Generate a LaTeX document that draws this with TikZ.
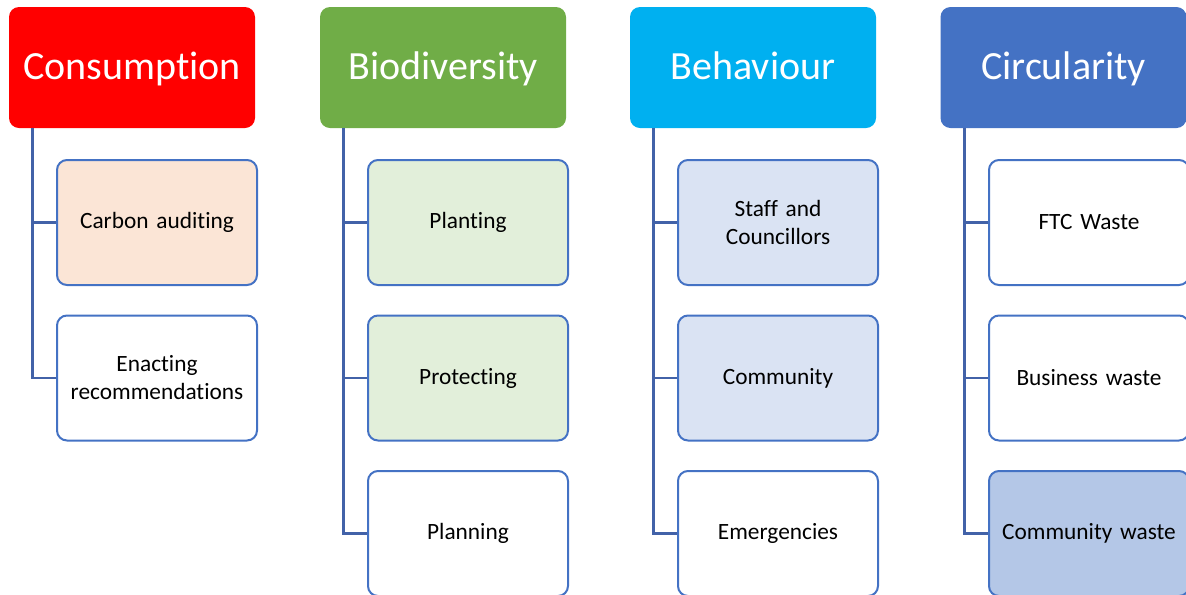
\documentclass[tikz,border=0pt]{standalone}
\usepackage{fontspec}
\setmainfont{Carlito}[Ligatures=NoCommon]
\definecolor{consred}{HTML}{FF0000}
\definecolor{biogreen}{HTML}{70AD47}
\definecolor{behblue}{HTML}{00B0F0}
\definecolor{circblue}{HTML}{4472C4}
\definecolor{linkblue}{HTML}{4262A8}
\definecolor{peach}{HTML}{FBE5D6}
\definecolor{lightgreen}{HTML}{E2EFDA}
\definecolor{lightblue}{HTML}{DAE3F3}
\definecolor{midblue}{HTML}{B4C7E7}

\begin{document}
\begin{tikzpicture}[x=0.75pt,y=-0.75pt,
  head/.style={rounded corners=7.5pt,fill=#1,text=white,minimum width=184.5pt,minimum height=90.75pt,
    text height=21pt,text depth=3pt,font=\fontsize{30}{36}\selectfont},
  item/.style={draw=circblue,line width=1.5pt,rounded corners=7.5pt,fill=#1,minimum width=150pt,minimum height=93.75pt,text width=140pt,align=center,font=\fontsize{17.5}{21}\selectfont},
  item/.default=white,
  link/.style={draw=linkblue,line width=1.9pt}]
\useasboundingbox (0,0) rectangle (1186,594);
% headers
\node[head=consred] (cons) at (132,67.5) {Consumption};
\node[head=biogreen] (bio) at (443,67.5) {Biodiversity};
\node[head=behblue] (beh) at (753,67.5) {Behaviour};
\node[head=circblue] (circ) at (1063.5,67.5) {Circularity};
% items
\node[item=peach] (cons1) at (157,222.5) {Carbon auditing};
\node[item] (cons2) at (157,378) {Enacting\\recommendations};
\node[item=lightgreen] (bio1) at (468,222.5) {Planting};
\node[item=lightgreen] (bio2) at (468,378) {Protecting};
\node[item] (bio3) at (468,533.5) {Planning};
\node[item=lightblue] (beh1) at (778,222.5) {Staff and\\Councillors};
\node[item=lightblue] (beh2) at (778,378) {Community};
\node[item] (beh3) at (778,533.5) {Emergencies};
\node[item] (circ1) at (1089,222.5) {FTC Waste};
\node[item] (circ2) at (1089,378) {Business waste};
\node[item=midblue] (circ3) at (1089,533.5) {Community waste};
% links
\foreach \h/\c in {cons/cons1,cons/cons2,bio/bio1,bio/bio2,bio/bio3,beh/beh1,beh/beh2,beh/beh3,circ/circ1,circ/circ2,circ/circ3}
  \draw[link] ([xshift=18pt]\h.south west) |- (\c.west);
\end{tikzpicture}
\end{document}
